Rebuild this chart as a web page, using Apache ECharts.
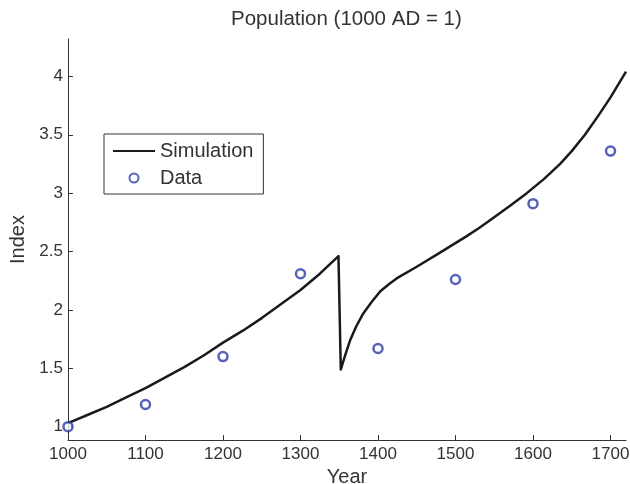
<!DOCTYPE html>
<html>
<head>
<meta charset="utf-8">
<script src="https://cdn.jsdelivr.net/npm/echarts@6/dist/echarts.min.js"></script>
<style>
  html, body { margin: 0; padding: 0; background: #fff; }
  #chart { width: 630px; height: 484px; }
</style>
</head>
<body>
<div id="chart"></div>
<script>
// simulated index
const simYears = [1000, 1025, 1050, 1075, 1100, 1125, 1150, 1175, 1200, 1225, 1250, 1275, 1300, 1325, 1349, 1352, 1358, 1364, 1372, 1381, 1392, 1403, 1414, 1424, 1450, 1480, 1514, 1530, 1549, 1570, 1592, 1614, 1635, 1650, 1667, 1685, 1700, 1720];
const simValues = [1.03, 1.1, 1.17, 1.25, 1.33, 1.42, 1.51, 1.61, 1.72, 1.82, 1.93, 2.05, 2.17, 2.31, 2.46, 1.49, 1.62, 1.74, 1.86, 1.97, 2.07, 2.16, 2.22, 2.27, 2.37, 2.49, 2.63, 2.7, 2.79, 2.89, 3.0, 3.12, 3.25, 3.36, 3.5, 3.67, 3.82, 4.04];

// observed data
const dataYears = [1000, 1100, 1200, 1300, 1400, 1500, 1600, 1700];
const dataValues = [1.0, 1.19, 1.6, 2.31, 1.67, 2.26, 2.91, 3.36];

const xTicks = [1000, 1100, 1200, 1300, 1400, 1500, 1600, 1700];
const yTicks = [1, 1.5, 2, 2.5, 3, 3.5, 4];

const textColor = "#333";
const font = "'Liberation Sans', Arial, Helvetica, sans-serif";

const chart = echarts.init(document.getElementById("chart"));

const option = {
    animation: false,
    title: {
        text: "Population (1000 AD = 1)",
        left: 231,
        top: 9,
        padding: 0,
        textStyle: { fontFamily: font, fontSize: 20.5, fontWeight: "normal", color: textColor },
    },
    legend: {
        orient: "vertical",
        left: 104,
        top: 134,
        padding: [7, 10, 6, 8],
        itemGap: 7,
        itemWidth: 42,
        itemHeight: 9,
        borderColor: "#333",
        borderWidth: 1,
        textStyle: { fontFamily: font, fontSize: 20, color: textColor },
        data: [
            { name: "Simulation", itemStyle: { opacity: 0 } },
            { name: "Data", icon: "circle" },
        ],
    },
    grid: { left: 68, right: 4, top: 39, bottom: 44, outerBoundsMode: "none" },
    xAxis: {
        type: "value",
        min: 1000,
        max: 1720,
        name: "Year",
        nameLocation: "middle",
        nameGap: 26,
        nameTextStyle: { fontFamily: font, fontSize: 20, color: textColor },
        axisLine: { lineStyle: { color: "#333", width: 1 } },
        axisTick: { inside: true, length: 5, lineStyle: { color: "#333" }, customValues: xTicks },
        axisLabel: {
            margin: 6, fontFamily: font, fontSize: 17, color: textColor,
            customValues: xTicks, formatter: (v) => String(v),
        },
        splitLine: { show: false },
    },
    yAxis: {
        type: "value",
        min: 0.886,
        max: 4.32,
        name: "Index",
        nameLocation: "middle",
        nameGap: 36,
        nameTextStyle: { fontFamily: font, fontSize: 20, color: textColor },
        axisLine: { show: true, lineStyle: { color: "#333", width: 1 } },
        axisTick: { show: true, inside: true, length: 5, lineStyle: { color: "#333" }, customValues: yTicks },
        axisLabel: {
            margin: 5, fontFamily: font, fontSize: 17, color: textColor,
            customValues: yTicks, formatter: (v) => String(v),
        },
        splitLine: { show: false },
    },
    series: [
        {
            name: "Simulation",
            type: "line",
            symbol: "none",
            lineStyle: { color: "#1a1a1a", width: 2.5, join: "round" },
            itemStyle: { color: "#1a1a1a" },
            data: simYears.map((y, i) => [y, simValues[i]]),
            z: 2,
        },
        {
            name: "Data",
            type: "scatter",
            symbol: "circle",
            symbolSize: 9,
            itemStyle: { color: "#fff", borderColor: "#2b3ca8", borderWidth: 2.5 },
            data: dataYears.map((y, i) => [y, dataValues[i]]),
            z: 3,
        },
    ],
};

chart.setOption(option);
</script>
</body>
</html>
